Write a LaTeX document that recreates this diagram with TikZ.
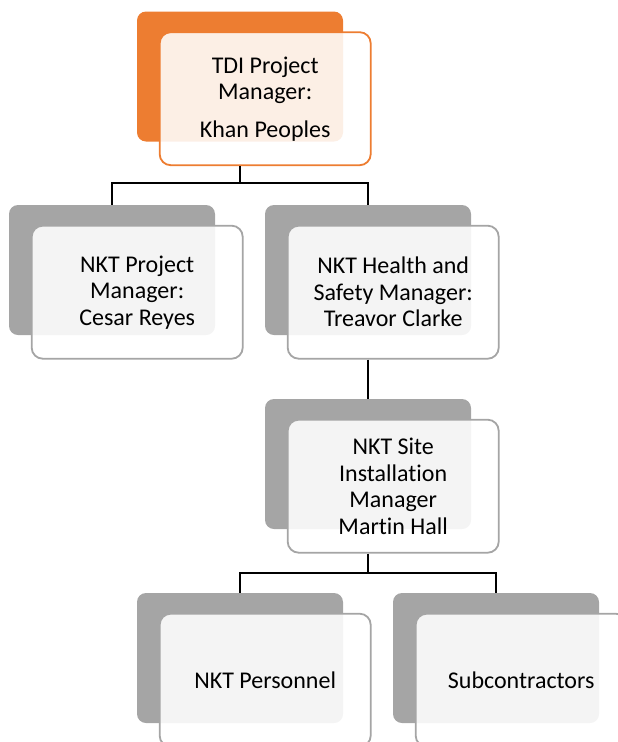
\documentclass[tikz,border=0pt]{standalone}
\usepackage{fontspec}
\setmainfont{Carlito}[Ligatures=NoCommon]
\usetikzlibrary{positioning}
\definecolor{orgorange}{HTML}{ED7D31}
\definecolor{orggray}{HTML}{A5A5A5}

\begin{document}
\begin{tikzpicture}[
			x=1pt, y=-1pt,
			every node/.style={rectangle, align=center, inner sep=0pt, font=\fontsize{24}{26.5}\selectfont},
			backbox/.style={fill=orggray, rounded corners=9pt, minimum width=206pt, minimum height=130pt},
			frontbox/.style={draw=orggray, line width=1.8pt, fill=white, fill opacity=0.88, text opacity=1, rounded corners=11pt, minimum width=211pt, minimum height=133pt, below right=20pt and 22pt of #1.north west},
			topback/.style={backbox, fill=orgorange},
			topfront/.style={frontbox=#1, draw=orgorange},
			line/.style={draw=black, line width=2.6pt}
			]
			\useasboundingbox (0,0) rectangle (618,742);
			\clip (0,0) rectangle (618,742);
			
			% Nodes
			\node (tdi_back) [topback] at (240,76.5) {};
			\node (tdi) [topfront=tdi_back] {TDI Project\\Manager:\\[11pt]Khan Peoples};
			\node (pm_back) [backbox] at (112,270) {};
			\node (pm) [frontbox=pm_back] {NKT Project\\Manager:\\Cesar Reyes};
			\node (hs_back) [backbox] at (368,270) {};
			\node (hs) [frontbox=hs_back] {NKT Health and\\Safety Manager:\\Treavor Clarke};
			\node (site_back) [backbox] at (368,464) {};
			\node (site) [frontbox=site_back] {NKT Site\\Installation\\Manager\\Martin Hall};
			\node (pers_back) [backbox] at (240,658) {};
			\node (pers) [frontbox=pers_back] {NKT Personnel};
			\node (sub_back) [backbox] at (496,658) {};
			\node (sub) [frontbox=sub_back] {Subcontractors};
			
			% Connections
			\coordinate (bar1) at (0,183);
			\coordinate (bar2) at (0,573);
			\draw [line] (tdi.south -| tdi_back.center) -- (tdi_back.center |- bar1) -| (pm_back.north);
			\draw [line] (tdi_back.center |- bar1) -| (hs_back.north);
			\draw [line] (hs.south -| hs_back.center) -- (site_back.north);
			\draw [line] (site.south -| site_back.center) -- (site_back.center |- bar2) -| (pers_back.north);
			\draw [line] (site_back.center |- bar2) -| (sub_back.north);
			
		\end{tikzpicture}
\end{document}
